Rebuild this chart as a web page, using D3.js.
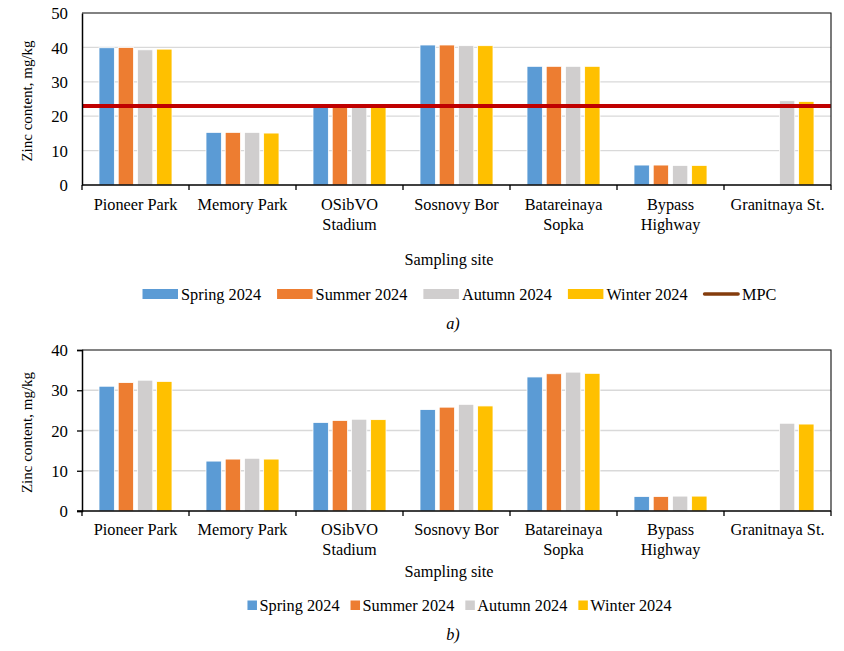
<!DOCTYPE html>
<html>
<head>
<meta charset="utf-8">
<script src="https://cdn.jsdelivr.net/npm/d3@7"></script>
<style>
  body { margin: 0; background: #fff; }
  text { font-family: "Liberation Serif", "Times New Roman", serif; fill: #000; }
</style>
</head>
<body>
<div id="chart"></div>
<script>
'use strict';

// data
var sites = ["Pioneer Park", "Memory Park", "OSibVO\nStadium", "Sosnovy Bor",
             "Batareinaya\nSopka", "Bypass\nHighway", "Granitnaya St."];
var seasons = ["Spring 2024", "Summer 2024", "Autumn 2024", "Winter 2024"];
var colors = ["#5b9bd5", "#ed7d31", "#d0cece", "#ffc000"];

// chart a)
var springA = [39.9, 15.3, 23.0, 40.7, 34.5, 5.8, null];
var summerA = [40.0, 15.3, 23.0, 40.7, 34.5, 5.8, null];
var autumnA = [39.3, 15.3, 23.0, 40.5, 34.5, 5.7, 24.5];
var winterA = [39.5, 15.1, 23.0, 40.5, 34.5, 5.7, 24.3];
var mpcValue = 23;
var ticksA = [0, 10, 20, 30, 40, 50];

// chart b)
var springB = [31.0, 12.4, 22.0, 25.2, 33.3, 3.6, null];
var summerB = [31.9, 12.9, 22.5, 25.8, 34.1, 3.6, null];
var autumnB = [32.5, 13.1, 22.8, 26.5, 34.5, 3.7, 21.8];
var winterB = [32.2, 12.9, 22.7, 26.1, 34.2, 3.7, 21.6];
var ticksB = [0, 10, 20, 30, 40];

var W = 844, H = 651,
    FS = 16.3,
    LEFT = 82, RIGHT = 831,
    LEGEND_CX = 459.5;

var svg = d3.select("#chart").append("svg")
    .attr("width", W)
    .attr("height", H);

function txt(g, x, y, str, anchor, italic) {
    return g.append("text")
        .attr("x", x).attr("y", y)
        .attr("text-anchor", anchor || "start")
        .style("font-size", FS + "px")
        .style("font-style", italic ? "italic" : "normal")
        .text(str);
}

function drawChart(opt) {
    var g = svg.append("g");
    var series = [opt.spring, opt.summer, opt.autumn, opt.winter];

    var x0 = d3.scaleBand().domain(sites).range([LEFT, RIGHT]).padding(0);
    var x1 = d3.scaleBand().domain(seasons)
        .range([17, x0.bandwidth() - 17]).paddingInner(0.2);
    var y = d3.scaleLinear().domain([0, opt.max]).range([opt.bottom, opt.top]);

    // grid
    g.append("g").selectAll("line")
        .data(opt.ticks.slice(1))
        .join("line")
        .attr("x1", LEFT).attr("x2", RIGHT)
        .attr("y1", function (d) { return y(d); })
        .attr("y2", function (d) { return y(d); })
        .attr("stroke", "#d9d9d9")
        .attr("stroke-width", 1.3);

    // bars
    var groups = g.append("g").selectAll("g")
        .data(sites)
        .join("g")
        .attr("transform", function (d) { return "translate(" + x0(d) + ",0)"; });
    groups.selectAll("rect")
        .data(function (d, i) {
            return seasons.map(function (s, k) { return {s: s, k: k, v: series[k][i]}; })
                .filter(function (o) { return o.v != null; });
        })
        .join("rect")
        .attr("x", function (d) { return x1(d.s); })
        .attr("width", x1.bandwidth())
        .attr("y", function (d) { return y(d.v); })
        .attr("height", function (d) { return y(0) - y(d.v); })
        .attr("fill", function (d) { return colors[d.k]; })
        .attr("stroke", "#fff")
        .attr("stroke-width", 0.8);

    // MPC line
    if (opt.mpc != null) {
        g.append("line")
            .attr("x1", LEFT).attr("x2", RIGHT)
            .attr("y1", y(opt.mpc)).attr("y2", y(opt.mpc))
            .attr("stroke", "#c00000")
            .attr("stroke-width", 4);
    }

    // frame
    g.append("path")
        .attr("d", "M" + LEFT + "," + opt.top + "H" + RIGHT + "V" + opt.bottom)
        .attr("fill", "none").attr("stroke", "#222").attr("stroke-width", 1.2);

    // y axis
    var yAxis = d3.axisLeft(y).tickValues(opt.ticks)
        .tickSize(opt.yTicks ? 5 : 0).tickPadding(opt.yTicks ? 9 : 14);
    var ya = g.append("g").attr("transform", "translate(" + LEFT + ",0)").call(yAxis);
    ya.select(".domain").attr("stroke", "#000").attr("stroke-width", 1.5);
    ya.selectAll(".tick line").attr("stroke", "#000").attr("stroke-width", 1.3);
    ya.selectAll(".tick text")
        .style("font-size", "16.8px")
        .style("font-family", "'Liberation Serif', serif")
        .attr("dy", "0.34em");

    // x axis: line and boundary ticks
    g.append("line")
        .attr("x1", LEFT - (opt.yTicks ? 5 : 0)).attr("x2", RIGHT)
        .attr("y1", opt.bottom).attr("y2", opt.bottom)
        .attr("stroke", "#000").attr("stroke-width", 1.5);
    var bounds = sites.map(function (d) { return x0(d); }).concat([RIGHT]);
    g.append("g").selectAll("line")
        .data(bounds)
        .join("line")
        .attr("x1", function (d) { return d; }).attr("x2", function (d) { return d; })
        .attr("y1", opt.bottom).attr("y2", opt.bottom + 5)
        .attr("stroke", "#000").attr("stroke-width", 1.3);

    // category labels
    sites.forEach(function (s) {
        var cx = x0(s) + x0.bandwidth() / 2;
        s.split("\n").forEach(function (line, li) {
            txt(g, cx, opt.catY + li * 19.5, line, "middle");
        });
    });

    // axis titles
    txt(g, 449, opt.titleY, "Sampling site", "middle");
    g.append("text")
        .attr("transform", "translate(32," + ((opt.top + opt.bottom) / 2 + 2) + ") rotate(-90)")
        .attr("text-anchor", "middle")
        .style("font-size", "15px")
        .text("Zinc content, mg/kg");

    // legend
    var items = seasons.map(function (s, k) { return {label: s, color: colors[k], kind: "box"}; });
    if (opt.mpc != null) items.push({label: "MPC", color: "#843c0c", kind: "line"});
    var lg = g.append("g");
    var cx = 0;
    items.forEach(function (it) {
        var sw = opt.swatchW;
        if (it.kind === "box") {
            lg.append("rect")
                .attr("x", cx).attr("y", opt.legendY - opt.swatchH - 1)
                .attr("width", sw).attr("height", opt.swatchH)
                .attr("fill", it.color);
        } else {
            lg.append("line")
                .attr("x1", cx + 1).attr("x2", cx + sw - 1)
                .attr("y1", opt.legendY - 6).attr("y2", opt.legendY - 6)
                .attr("stroke", it.color).attr("stroke-width", 3.5)
                .attr("stroke-linecap", "round");
        }
        var t = txt(lg, cx + sw + opt.textGap, opt.legendY, it.label, "start");
        cx += sw + opt.textGap + t.node().getComputedTextLength() + opt.itemGap;
    });
    var total = cx - opt.itemGap;
    lg.attr("transform", "translate(" + (LEGEND_CX - total / 2) + ",0)");

    txt(g, 453, opt.capY, opt.caption, "middle", true);
}

drawChart({
    spring: springA, summer: summerA, autumn: autumnA, winter: winterA,
    max: 50, ticks: ticksA, mpc: mpcValue, yTicks: false,
    top: 13, bottom: 185, catY: 210, titleY: 265,
    legendY: 300, swatchW: 35.5, swatchH: 10, textGap: 3, itemGap: 16,
    capY: 329, caption: "a)"
});

drawChart({
    spring: springB, summer: summerB, autumn: autumnB, winter: winterB,
    max: 40, ticks: ticksB, mpc: null, yTicks: true,
    top: 350, bottom: 511, catY: 535, titleY: 577,
    legendY: 611, swatchW: 9.5, swatchH: 9.5, textGap: 2.5, itemGap: 11,
    capY: 640, caption: "b)"
});
</script>
</body>
</html>
